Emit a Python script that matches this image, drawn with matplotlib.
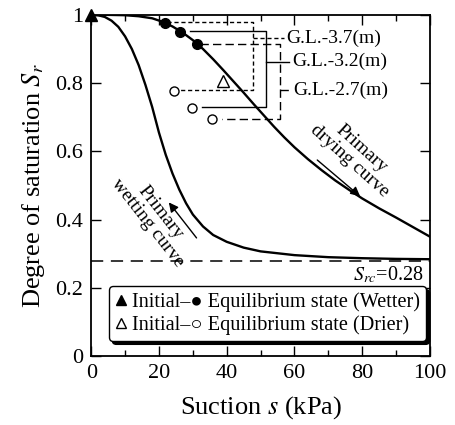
import matplotlib.pyplot as plt
from matplotlib.ticker import MultipleLocator, FormatStrFormatter
from matplotlib.lines import Line2D

# === DATA ===
# primary drying curve (suction kPa, degree of saturation)
dry_s = [0, 5, 10, 14, 18, 21, 24, 27, 30, 33, 36, 39, 42, 45, 48, 51,
         54, 57, 60, 64, 68, 72, 76, 80, 85, 90, 95, 100]
dry_sr = [1.0, 1.0, 0.999, 0.996, 0.99, 0.98, 0.966, 0.948, 0.926, 0.9, 0.87,
          0.838, 0.805, 0.772, 0.738, 0.705, 0.672, 0.641, 0.612, 0.577,
          0.545, 0.515, 0.488, 0.462, 0.433, 0.406, 0.378, 0.35]

# primary wetting curve
wet_s = [0, 2, 4, 6, 8, 10, 12, 14, 16, 18, 20, 22, 24, 26, 28, 30, 33,
         36, 40, 45, 50, 60, 70, 80, 90, 100]
wet_sr = [1.0, 0.999, 0.994, 0.983, 0.965, 0.937, 0.9, 0.853, 0.795, 0.73,
          0.655, 0.59, 0.535, 0.488, 0.448, 0.415, 0.38, 0.355, 0.335, 0.318,
          0.307, 0.296, 0.29, 0.287, 0.285, 0.284]

s_rc = 0.28

# initial / equilibrium states
init_wet_s, init_wet_sr = [0], [1.0]
eq_wet_s = [21.8, 26.3, 31.2]
eq_wet_sr = [0.977, 0.949, 0.914]
init_dry_s, init_dry_sr = [39], [0.805]
eq_dry_s = [24.3, 29.7, 35.6]
eq_dry_sr = [0.778, 0.726, 0.695]

# depth brackets: (label, box s, box sr, connector s, connector sr, text s, text sr, style)
gl37 = ("G.L.-3.7(m)", [22.4, 47.8, 47.8, 25.7], [0.98, 0.98, 0.781, 0.781],
        [47.8, 57.0], [0.931, 0.931], 57.6, 0.931, (0, (3, 2)))
gl32 = ("G.L.-3.2(m)", [29.2, 51.5, 51.5, 32.6], [0.954, 0.954, 0.729, 0.729],
        [51.5, 58.5], [0.863, 0.863], 59.4, 0.863, "-")
gl27 = ("G.L.-2.7(m)", [32.0, 55.8, 55.8, 38.5], [0.914, 0.914, 0.695, 0.695],
        [55.8, 58.6], [0.78, 0.78], 59.6, 0.78, (0, (6, 3)))

xticks = [0, 20, 40, 60, 80, 100]
yticks = [0, 0.2, 0.4, 0.6, 0.8, 1.0]

# === STYLE ===
plt.rcParams["font.family"] = ["Liberation Serif", "DejaVu Sans"]
plt.rcParams["mathtext.fontset"] = "stix"

fig = plt.figure(figsize=(4.56, 4.25), dpi=100)
ax = fig.add_axes([0.2, 0.162, 0.743, 0.803])

# curves
ax.plot(dry_s, dry_sr, color="k", lw=1.7)
ax.plot(wet_s, wet_sr, color="k", lw=1.7)
ax.axhline(s_rc, color="k", lw=1.1, ls=(0, (8, 5)))

# brackets
for lab, bs, bsr, cs, csr, ts, tsr, ls in [gl37, gl32, gl27]:
    ax.plot(bs, bsr, color="k", lw=1.0, ls=ls)
    ax.plot(cs, csr, color="k", lw=1.0, ls=ls)
    ax.text(ts, tsr, lab, fontsize=14, va="center", ha="left")

# points
ax.plot(init_wet_s, init_wet_sr, "k^", ms=8, clip_on=False, zorder=5)
ax.plot(eq_wet_s, eq_wet_sr, "ko", ms=7, zorder=5)
ax.plot(init_dry_s, init_dry_sr, "^", mfc="white", mec="k", mew=1.0, ms=8, zorder=5)
ax.plot(eq_dry_s, eq_dry_sr, "o", mfc="white", mec="k", mew=1.0, ms=6.5, zorder=5)

# curve labels with arrows
ax.text(78, 0.59, "Primary\ndrying curve", rotation=-42, fontsize=14,
        ha="center", va="center", linespacing=1.0)
ax.annotate("", xy=(80, 0.463), xytext=(66.1, 0.58),
            arrowprops=dict(arrowstyle="-|>", color="k", lw=1.0, mutation_scale=14))
ax.text(18.5, 0.405, "Primary\nwetting curve", rotation=-52, fontsize=14,
        ha="center", va="center", linespacing=1.0)
ax.annotate("", xy=(22.4, 0.457), xytext=(31.6, 0.34),
            arrowprops=dict(arrowstyle="-|>", color="k", lw=1.0, mutation_scale=14))

ax.text(98, 0.237, r"$S_{rc}$=0.28", fontsize=14.5, ha="right", va="center")

# legend
handles = [Line2D([], [], ls="none", marker="^", color="k", ms=7.5),
           Line2D([], [], ls="none", marker="^", mfc="white", mec="k", ms=7.5)]
labels = ["Initial\u2013\u25cf Equilibrium state (Wetter)",
          "Initial\u2013\u25cb Equilibrium state (Drier)"]
leg = ax.legend(handles, labels, loc="upper left", bbox_to_anchor=(0.052, 0.205),
                fontsize=14.6, frameon=True, fancybox=True,
                shadow={"color": "k", "alpha": 1.0, "ox": 2.5, "oy": -2.5},
                handlelength=0.6, handletextpad=0.25, borderpad=0.3,
                labelspacing=0.15, borderaxespad=0)
leg.get_frame().set_edgecolor("k")
leg.get_frame().set_linewidth(1.0)
leg.get_frame().set_alpha(1.0)

# axes
ax.set_xlim(0, 100)
ax.set_ylim(0, 1)
ax.set_xticks(xticks)
ax.set_yticks(yticks)
ax.xaxis.set_minor_locator(MultipleLocator(10))
ax.yaxis.set_major_formatter(FormatStrFormatter("%g"))
ax.tick_params(which="both", direction="in", top=True, right=True, labelsize=16)
ax.tick_params(which="major", length=7, width=1.0, pad=6)
ax.tick_params(which="minor", length=4, width=1.0)
for sp in ax.spines.values():
    sp.set_linewidth(1.3)

ax.set_xlabel(r"Suction $s$ (kPa)", fontsize=19, labelpad=8)
ax.set_ylabel(r"Degree of saturation $S_r$", fontsize=19, labelpad=6)

fig.savefig("out.png", dpi=100)
